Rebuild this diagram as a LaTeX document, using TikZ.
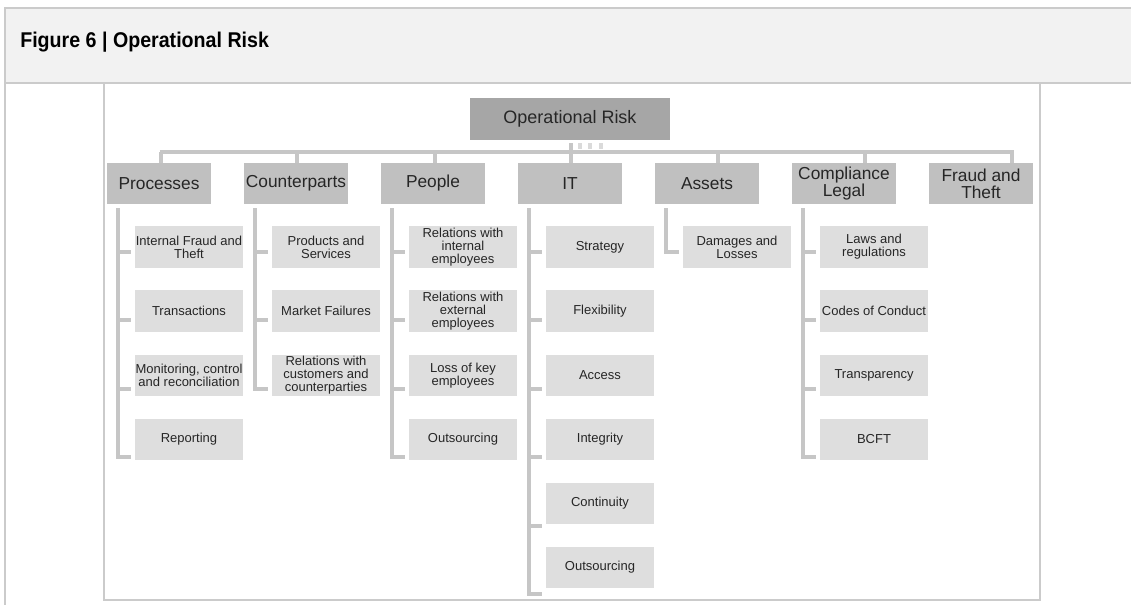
\documentclass[tikz,border=0pt]{standalone}
\usepackage{fontspec}
\setmainfont{Liberation Sans}
\newfontfamily\titlefont[FakeStretch=0.92]{Liberation Sans}
\usetikzlibrary{calc}

\definecolor{frame line}{HTML}{CBCBCB}
\definecolor{head fill}{HTML}{F2F2F2}
\definecolor{root fill}{HTML}{A6A6A6}
\definecolor{group fill}{HTML}{C0C0C0}
\definecolor{item fill}{HTML}{DEDEDE}
\definecolor{wire line}{HTML}{C6C6C6}
\definecolor{tick light}{HTML}{DADADA}
\definecolor{label text}{HTML}{262626}
\tikzset{
  rootbox/.style={fill=root fill, text=label text, minimum width=150pt, minimum height=31.5pt, inner sep=0pt, font=\fontsize{13.5}{14}\selectfont},
  groupbox/.style={fill=group fill, text=label text, minimum width=78pt, minimum height=30.75pt, inner sep=0pt, align=center, font=\fontsize{13}{12.75}\selectfont},
  itembox/.style={fill=item fill, text=label text, minimum width=81pt, minimum height=31pt, inner sep=0pt, align=center, font=\fontsize{9.75}{9.75}\selectfont},
  wire/.style={draw=wire line, line width=3pt},
  hairline/.style={draw=frame line, line width=1.2pt}
}

\begin{document}
\begin{tikzpicture}[x=0.75pt, y=-0.75pt]
  \useasboundingbox (0,0) rectangle (1131,605);

  % frame
  \draw[hairline, fill=head fill] (5,8) rectangle (1140,83);
  \draw[hairline] (5,83) -- (5,610);
  \draw[hairline] (104,83) rectangle (1040,600);
  \node[anchor=base west, inner sep=0pt, text=black, font=\titlefont\bfseries\fontsize{16}{16}\selectfont] (title) at (20,47.5) {Figure 6 | Operational Risk};

  % top
  \node[rootbox] (root) at (570,119) {Operational Risk};

  \node[groupbox] (proc) at (159,183.5) {Processes};
  \node[groupbox] (cpty) at (296,183.5) {Counterparts};
  \node[groupbox] (ppl) at (433,183.5) {People};
  \node[groupbox] (it) at (570,183.5) {IT};
  \node[groupbox] (assets) at (707,183.5) {Assets};
  \node[groupbox] (legal) at (844,183.5) {Compliance\\Legal};
  \node[groupbox] (fraud) at (981,183.5) {Fraud and\\Theft};

  % bus
  \coordinate (bus west) at (159.5,152);
  \coordinate (bus east) at (1013.5,152);
  \draw[wire] (bus west) -- (bus east);
  \foreach \n/\dx in {proc/2, cpty/1, ppl/2, it/1, assets/11, legal/21, fraud/31}
    \draw[wire] ([xshift=\dx*0.75pt]\n.north) -- ([xshift=\dx*0.75pt]\n.north |- bus west);
  \draw[wire] ($(root.south)+(1,3)$) -- ($(root.south)+(1,12)$);
  \foreach \dx in {10,20,31}
    \draw[wire, draw=tick light] ($(root.south)+(\dx,3)$) -- ($(root.south)+(\dx,9)$);

  % Processes
  \node[itembox] (proc1) at (189,247) {Internal Fraud and\\Theft};
  \node[itembox] (proc2) at (189,311.1) {Transactions};
  \node[itembox] (proc3) at (189,375.2) {Monitoring, control\\and reconciliation};
  \node[itembox] (proc4) at (189,439.3) {Reporting};

  % Counterparts
  \node[itembox] (cpty1) at (326,247) {Products and\\Services};
  \node[itembox] (cpty2) at (326,311.1) {Market Failures};
  \node[itembox] (cpty3) at (326,375.2) {Relations with\\customers and\\counterparties};

  % People
  \node[itembox] (ppl1) at (463,247) {Relations with\\internal\\employees};
  \node[itembox] (ppl2) at (463,311.1) {Relations with\\external\\employees};
  \node[itembox] (ppl3) at (463,375.2) {Loss of key\\employees};
  \node[itembox] (ppl4) at (463,439.3) {Outsourcing};

  % IT
  \node[itembox] (it1) at (600,247) {Strategy};
  \node[itembox] (it2) at (600,311.1) {Flexibility};
  \node[itembox] (it3) at (600,375.2) {Access};
  \node[itembox] (it4) at (600,439.3) {Integrity};
  \node[itembox] (it5) at (600,503.4) {Continuity};
  \node[itembox] (it6) at (600,567.5) {Outsourcing};

  % Assets
  \node[itembox] (assets1) at (737,247) {Damages and\\Losses};

  % Compliance
  \node[itembox] (legal1) at (874,247) {Laws and\\regulations};
  \node[itembox] (legal2) at (874,311.1) {Codes of Conduct};
  \node[itembox] (legal3) at (874,375.2) {Transparency};
  \node[itembox] (legal4) at (874,439.3) {BCFT};

  % columns
  \draw[wire] ($(proc.south west)+(11,4)$) |- ($(proc4.west)+(-4,17.9)$);
  \draw[wire] ($(cpty.south west)+(11,4)$) |- ($(cpty3.west)+(-4,13.6)$);
  \draw[wire] ($(ppl.south west)+(11,4)$) |- ($(ppl4.west)+(-4,17.9)$);
  \draw[wire] ($(it.south west)+(11,4)$) |- ($(it6.west)+(-4,26.5)$);
  \draw[wire] ($(assets.south west)+(11,4)$) |- ($(assets1.west)+(-4,5)$);
  \draw[wire] ($(legal.south west)+(11,4)$) |- ($(legal4.west)+(-4,17.9)$);
  \foreach \n/\dy in {proc1/5, proc2/9.3, proc3/13.6, cpty1/5, cpty2/9.3,
                      ppl1/5, ppl2/9.3, ppl3/13.6, it1/5, it2/9.3, it3/13.6,
                      it4/17.9, it5/22.2, legal1/5, legal2/9.3, legal3/13.6}
    \draw[wire] ($(\n.west)+(-17,\dy)$) -- ($(\n.west)+(-4,\dy)$);
\end{tikzpicture}
\end{document}
